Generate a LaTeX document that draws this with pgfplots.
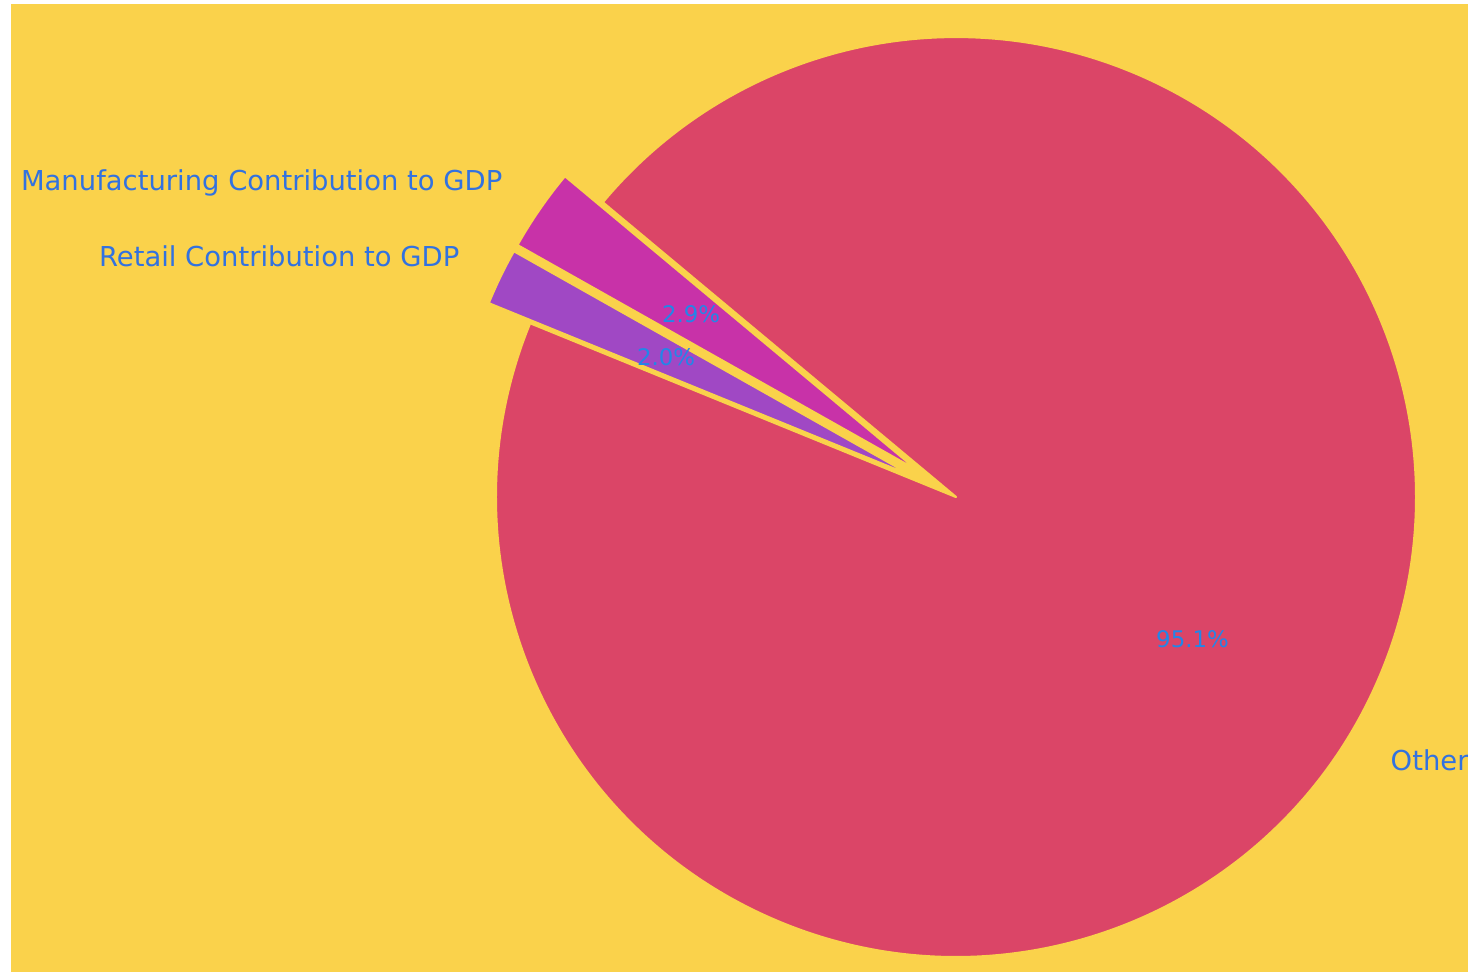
\documentclass[border=0pt]{standalone}
\usepackage{pgfplots}
\pgfplotsset{compat=1.18}
\usepackage{pgfplotstable}
\usepackage{fontspec}
\setmainfont{DejaVu Sans}
\definecolor{bg}{RGB}{250,210,75}
\definecolor{cother}{RGB}{219,69,103}
\definecolor{cmanu}{RGB}{200,50,168}
\definecolor{cretail}{RGB}{160,72,196}
\definecolor{lbl}{RGB}{50,114,224}
\definecolor{pct}{RGB}{34,134,232}
\pgfplotstableread{
label value pull
Other 95.1 0
Manufacturing 2.9 4.6
Retail 2.0 4.6
}\pietable
\begin{document}
\begin{tikzpicture}
% read values and compute angles (start at 157.8 deg, counterclockwise)
\pgfplotstablegetelem{0}{value}\of\pietable \pgfmathsetmacro\vO{\pgfplotsretval}
\pgfplotstablegetelem{1}{value}\of\pietable \pgfmathsetmacro\vM{\pgfplotsretval}
\pgfplotstablegetelem{2}{value}\of\pietable \pgfmathsetmacro\vR{\pgfplotsretval}
\pgfplotstablegetelem{1}{pull}\of\pietable \pgfmathsetmacro\pM{\pgfplotsretval}
\pgfplotstablegetelem{2}{pull}\of\pietable \pgfmathsetmacro\pR{\pgfplotsretval}
\pgfmathsetmacro\aO{157.8}
\pgfmathsetmacro\bO{\aO+3.6*\vO}
\pgfmathsetmacro\mO{(\aO+\bO)/2}
\pgfmathsetmacro\aM{\bO}
\pgfmathsetmacro\bM{\aM+3.6*\vM}
\pgfmathsetmacro\mM{(\aM+\bM)/2}
\pgfmathsetmacro\aR{\bM}
\pgfmathsetmacro\bR{\aR+3.6*\vR}
\pgfmathsetmacro\mR{(\aR+\bR)/2}
\pgfmathsetmacro\tO{0.6*46.0}
\pgfmathsetmacro\tM{\pM+0.6*46.0}
\pgfmathsetmacro\tR{\pR+0.6*46.0}
\begin{axis}[
  hide axis, scale only axis, width=14.68cm, height=9.75cm,
  xmin=0, xmax=1468, ymin=0, ymax=975, clip=false,
]
\fill[white] (axis cs:0,0) rectangle (axis cs:1468,975);
\fill[bg] (axis cs:11,3) rectangle (axis cs:1468,971);
\coordinate (BL) at (axis cs:0,0);
\coordinate (TR) at (axis cs:1468,975);
% slices
\filldraw[fill=cother, draw=bg, line width=0.22mm, line join=round]
  (axis cs:956,478) -- ++(\aO:46.0mm) arc[start angle=\aO, end angle=\bO, radius=46.0mm] -- cycle;
\filldraw[fill=cmanu, draw=bg, line width=0.22mm, line join=round]
  ([shift={(\mM:\pM mm)}]axis cs:956,478) -- ++(\aM:46.0mm) arc[start angle=\aM, end angle=\bM, radius=46.0mm] -- cycle;
\filldraw[fill=cretail, draw=bg, line width=0.22mm, line join=round]
  ([shift={(\mR:\pR mm)}]axis cs:956,478) -- ++(\aR:46.0mm) arc[start angle=\aR, end angle=\bR, radius=46.0mm] -- cycle;
% percent labels
\node[text=pct, font=\fontsize{6.5}{7}\selectfont] at ([shift={(\mO:\tO mm)}]axis cs:956,478) {95.1\%};
\node[text=pct, font=\fontsize{6.5}{7}\selectfont] at ([shift={(\mM:\tM mm)}]axis cs:956,478) {2.9\%};
\node[text=pct, font=\fontsize{6.5}{7}\selectfont] at ([shift={(\mR:\tR mm)}]axis cs:956,478) {2.0\%};
% outside labels
\node[text=lbl, anchor=east, inner sep=0pt, font=\fontsize{7.8}{9}\selectfont] at (axis cs:503,792) {Manufacturing Contribution to GDP};
\node[text=lbl, anchor=east, inner sep=0pt, font=\fontsize{7.8}{9}\selectfont] at (axis cs:460,719) {Retail Contribution to GDP};
\node[text=lbl, anchor=west, inner sep=0pt, font=\fontsize{7.8}{9}\selectfont] at (axis cs:1390,215) {Other};
\end{axis}
\pgfresetboundingbox
\useasboundingbox (BL) rectangle (TR);
\end{tikzpicture}
\end{document}
